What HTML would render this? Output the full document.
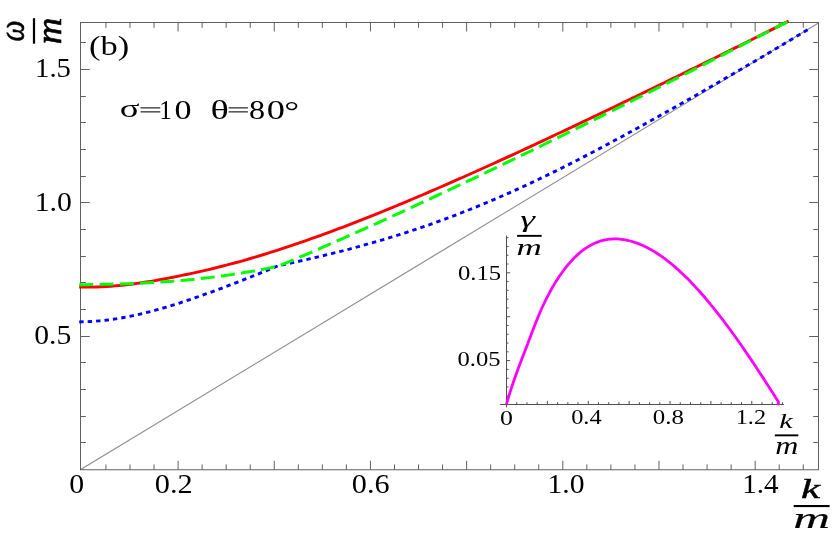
<!DOCTYPE html>
<html><head><meta charset="utf-8"><title>chart</title>
<style>html,body{margin:0;padding:0;background:#fff;font-family:"Liberation Serif",serif;overflow:hidden}</style></head>
<body>
<svg width="839" height="534" viewBox="0 0 839 534" style="display:block">
<rect x="0" y="0" width="839" height="534" fill="#ffffff"/>
<line x1="80.7" y1="469.5" x2="818.0" y2="23.2" stroke="#8e8e8e" stroke-width="1.2"/>
<rect x="80.5" y="22.5" width="738.0" height="447.25" fill="none" stroke="#606060" stroke-width="1"/>
<path d="M105.95 469.75 v-5.3 M105.95 22.5 v5.3 M129.99 469.75 v-5.3 M129.99 22.5 v5.3 M154.04 469.75 v-5.3 M154.04 22.5 v5.3 M178.08 469.75 v-9.0 M178.08 22.5 v9.0 M202.12 469.75 v-5.3 M202.12 22.5 v5.3 M226.17 469.75 v-5.3 M226.17 22.5 v5.3 M250.22 469.75 v-5.3 M250.22 22.5 v5.3 M274.26 469.75 v-9.0 M274.26 22.5 v9.0 M298.31 469.75 v-5.3 M298.31 22.5 v5.3 M322.35 469.75 v-5.3 M322.35 22.5 v5.3 M346.39 469.75 v-5.3 M346.39 22.5 v5.3 M370.44 469.75 v-9.0 M370.44 22.5 v9.0 M394.49 469.75 v-5.3 M394.49 22.5 v5.3 M418.53 469.75 v-5.3 M418.53 22.5 v5.3 M442.57 469.75 v-5.3 M442.57 22.5 v5.3 M466.62 469.75 v-9.0 M466.62 22.5 v9.0 M490.67 469.75 v-5.3 M490.67 22.5 v5.3 M514.71 469.75 v-5.3 M514.71 22.5 v5.3 M538.75 469.75 v-5.3 M538.75 22.5 v5.3 M562.80 469.75 v-9.0 M562.80 22.5 v9.0 M586.85 469.75 v-5.3 M586.85 22.5 v5.3 M610.89 469.75 v-5.3 M610.89 22.5 v5.3 M634.94 469.75 v-5.3 M634.94 22.5 v5.3 M658.98 469.75 v-9.0 M658.98 22.5 v9.0 M683.02 469.75 v-5.3 M683.02 22.5 v5.3 M707.07 469.75 v-5.3 M707.07 22.5 v5.3 M731.12 469.75 v-5.3 M731.12 22.5 v5.3 M755.16 469.75 v-9.0 M755.16 22.5 v9.0 M779.21 469.75 v-5.3 M779.21 22.5 v5.3 M803.25 469.75 v-5.3 M803.25 22.5 v5.3 M80.5 442.50 h5.3 M818.5 442.50 h-5.3 M80.5 416.50 h5.3 M818.5 416.50 h-5.3 M80.5 389.50 h5.3 M818.5 389.50 h-5.3 M80.5 362.50 h5.3 M818.5 362.50 h-5.3 M80.5 336.50 h9.3 M818.5 336.50 h-9.3 M80.5 309.50 h5.3 M818.5 309.50 h-5.3 M80.5 282.50 h5.3 M818.5 282.50 h-5.3 M80.5 256.50 h5.3 M818.5 256.50 h-5.3 M80.5 229.50 h5.3 M818.5 229.50 h-5.3 M80.5 202.50 h9.3 M818.5 202.50 h-9.3 M80.5 176.50 h5.3 M818.5 176.50 h-5.3 M80.5 149.50 h5.3 M818.5 149.50 h-5.3 M80.5 122.50 h5.3 M818.5 122.50 h-5.3 M80.5 96.50 h5.3 M818.5 96.50 h-5.3 M80.5 69.50 h9.3 M818.5 69.50 h-9.3 M80.5 42.50 h5.3 M818.5 42.50 h-5.3" stroke="#606060" stroke-width="1" fill="none"/>
<path d="M79.20 287.04 L83.66 287.13 L88.12 287.14 L92.58 287.09 L97.05 286.97 L101.51 286.79 L105.97 286.55 L110.43 286.25 L114.89 285.89 L119.35 285.48 L123.82 285.02 L128.28 284.51 L132.74 283.95 L137.20 283.35 L141.66 282.71 L146.12 282.03 L150.59 281.31 L155.05 280.56 L159.51 279.77 L163.97 278.96 L168.43 278.11 L172.89 277.24 L177.36 276.35 L181.82 275.44 L186.28 274.51 L190.74 273.56 L195.20 272.58 L199.66 271.59 L204.13 270.58 L208.59 269.54 L213.05 268.47 L217.51 267.39 L221.97 266.27 L226.43 265.13 L230.90 263.96 L235.36 262.77 L239.82 261.54 L244.28 260.29 L248.74 259.00 L253.20 257.69 L257.67 256.35 L262.13 254.99 L266.59 253.61 L271.05 252.21 L275.51 250.79 L279.97 249.35 L284.44 247.89 L288.90 246.41 L293.36 244.91 L297.82 243.39 L302.28 241.86 L306.74 240.30 L311.21 238.73 L315.67 237.15 L320.13 235.54 L324.59 233.92 L329.05 232.28 L333.51 230.63 L337.97 228.96 L342.44 227.28 L346.90 225.58 L351.36 223.87 L355.82 222.14 L360.28 220.40 L364.74 218.65 L369.21 216.88 L373.67 215.10 L378.13 213.30 L382.59 211.50 L387.05 209.68 L391.51 207.85 L395.98 206.01 L400.44 204.15 L404.90 202.29 L409.36 200.42 L413.82 198.53 L418.28 196.64 L422.75 194.74 L427.21 192.82 L431.67 190.90 L436.13 188.97 L440.59 187.03 L445.05 185.09 L449.52 183.13 L453.98 181.17 L458.44 179.20 L462.90 177.23 L467.36 175.24 L471.82 173.26 L476.29 171.26 L480.75 169.26 L485.21 167.25 L489.67 165.23 L494.13 163.21 L498.59 161.18 L503.06 159.15 L507.52 157.11 L511.98 155.06 L516.44 153.01 L520.90 150.95 L525.36 148.89 L529.83 146.82 L534.29 144.75 L538.75 142.67 L543.21 140.59 L547.67 138.50 L552.13 136.41 L556.59 134.31 L561.06 132.21 L565.52 130.11 L569.98 128.00 L574.44 125.89 L578.90 123.77 L583.36 121.65 L587.83 119.52 L592.29 117.40 L596.75 115.26 L601.21 113.13 L605.67 110.99 L610.13 108.85 L614.60 106.71 L619.06 104.56 L623.52 102.41 L627.98 100.26 L632.44 98.11 L636.90 95.95 L641.37 93.79 L645.83 91.63 L650.29 89.47 L654.75 87.31 L659.21 85.14 L663.67 82.97 L668.14 80.80 L672.60 78.62 L677.06 76.45 L681.52 74.27 L685.98 72.08 L690.44 69.90 L694.91 67.71 L699.37 65.52 L703.83 63.33 L708.29 61.13 L712.75 58.94 L717.21 56.74 L721.68 54.53 L726.14 52.33 L730.60 50.12 L735.06 47.91 L739.52 45.69 L743.98 43.47 L748.45 41.25 L752.91 39.03 L757.37 36.80 L761.83 34.57 L766.29 32.34 L770.75 30.11 L775.22 27.87 L779.68 25.62 L784.14 23.38 L788.60 21.13" stroke="#ff0000" stroke-width="2.9" fill="none"/>
<path d="M79.20 321.87 L83.26 321.81 L87.33 321.69 L91.39 321.48 L95.45 321.21 L99.51 320.87 L103.58 320.46 L107.64 319.99 L111.70 319.46 L115.77 318.86 L119.83 318.20 L123.89 317.49 L127.95 316.72 L132.02 315.90 L136.08 315.03 L140.14 314.11 L144.21 313.14 L148.27 312.12 L152.33 311.06 L156.39 309.96 L160.46 308.82 L164.52 307.65 L168.58 306.43 L172.65 305.19 L176.71 303.91 L180.77 302.60 L184.83 301.26 L188.90 299.90 L192.96 298.52 L197.02 297.11 L201.09 295.68 L205.15 294.23 L209.21 292.77 L213.27 291.29 L217.34 289.80 L221.40 288.29 L225.46 286.76 L229.53 285.23 L233.59 283.67 L237.65 282.11 L241.71 280.53 L245.78 278.93 L249.84 277.33 L253.90 275.71 L257.97 274.08 L262.03 272.44 L266.09 270.79 L270.15 269.13 L274.22 267.45 L278.28 265.77 L278.28 265.77 L282.73 264.84 L287.19 263.89 L291.64 262.92 L296.10 261.94 L300.55 260.94 L305.00 259.92 L309.46 258.90 L313.91 257.86 L318.37 256.81 L322.82 255.75 L327.27 254.67 L331.73 253.58 L336.18 252.47 L340.64 251.34 L345.09 250.20 L349.54 249.04 L354.00 247.87 L358.45 246.67 L362.91 245.45 L367.36 244.22 L371.81 242.96 L376.27 241.68 L380.72 240.38 L385.17 239.05 L389.63 237.70 L394.08 236.33 L398.54 234.94 L402.99 233.52 L407.44 232.08 L411.90 230.62 L416.35 229.13 L420.81 227.63 L425.26 226.10 L429.71 224.54 L434.17 222.96 L438.62 221.36 L443.08 219.74 L447.53 218.10 L451.98 216.43 L456.44 214.73 L460.89 213.02 L465.35 211.28 L469.80 209.52 L474.25 207.73 L478.71 205.92 L483.16 204.09 L487.62 202.23 L492.07 200.35 L496.52 198.45 L500.98 196.52 L505.43 194.57 L509.89 192.60 L514.34 190.60 L518.79 188.58 L523.25 186.54 L527.70 184.48 L532.16 182.39 L536.61 180.28 L541.06 178.16 L545.52 176.01 L549.97 173.84 L554.42 171.66 L558.88 169.45 L563.33 167.23 L567.79 164.99 L572.24 162.73 L576.69 160.46 L581.15 158.17 L585.60 155.86 L590.06 153.54 L594.51 151.21 L598.96 148.86 L603.42 146.50 L607.87 144.13 L612.33 141.74 L616.78 139.34 L621.23 136.93 L625.69 134.51 L630.14 132.08 L634.60 129.64 L639.05 127.19 L643.50 124.73 L647.96 122.27 L652.41 119.79 L656.87 117.31 L661.32 114.82 L665.77 112.33 L670.23 109.83 L674.68 107.32 L679.14 104.80 L683.59 102.28 L688.04 99.76 L692.50 97.22 L696.95 94.68 L701.41 92.14 L705.86 89.59 L710.31 87.03 L714.77 84.47 L719.22 81.90 L723.67 79.32 L728.13 76.74 L732.58 74.15 L737.04 71.56 L741.49 68.96 L745.94 66.36 L750.40 63.75 L754.85 61.13 L759.31 58.51 L763.76 55.88 L768.21 53.25 L772.67 50.61 L777.12 47.96 L781.58 45.31 L786.03 42.66 L790.48 40.00 L794.94 37.33 L799.39 34.66 L803.85 31.98 L808.30 29.30" stroke="#0000ff" stroke-width="2.9" fill="none" stroke-dasharray="4.4 4.058" stroke-dashoffset="0"/>
<path d="M79.20 284.83 L83.26 284.76 L87.33 284.69 L91.39 284.61 L95.45 284.53 L99.51 284.45 L103.58 284.35 L107.64 284.26 L111.70 284.15 L115.77 284.04 L119.83 283.92 L123.89 283.79 L127.95 283.65 L132.02 283.50 L136.08 283.33 L140.14 283.16 L144.21 282.97 L148.27 282.77 L152.33 282.55 L156.39 282.32 L160.46 282.08 L164.52 281.81 L168.58 281.53 L172.65 281.23 L176.71 280.91 L180.77 280.58 L184.83 280.22 L188.90 279.84 L192.96 279.44 L197.02 279.02 L201.09 278.58 L205.15 278.11 L209.21 277.63 L213.27 277.12 L217.34 276.59 L221.40 276.04 L225.46 275.47 L229.53 274.88 L233.59 274.27 L237.65 273.64 L241.71 272.99 L245.78 272.32 L249.84 271.62 L253.90 270.91 L257.97 270.18 L262.03 269.43 L266.09 268.65 L270.15 267.86 L274.22 267.05 L278.28 266.22 L278.28 266.22 L282.56 264.44 L286.85 262.64 L291.13 260.84 L295.42 259.02 L299.70 257.20 L303.99 255.37 L308.27 253.53 L312.55 251.68 L316.84 249.83 L321.12 247.97 L325.41 246.10 L329.69 244.23 L333.97 242.35 L338.26 240.47 L342.54 238.58 L346.83 236.68 L351.11 234.78 L355.40 232.88 L359.68 230.97 L363.96 229.05 L368.25 227.13 L372.53 225.20 L376.82 223.27 L381.10 221.34 L385.39 219.40 L389.67 217.45 L393.95 215.50 L398.24 213.54 L402.52 211.58 L406.81 209.62 L411.09 207.65 L415.37 205.67 L419.66 203.69 L423.94 201.71 L428.23 199.72 L432.51 197.73 L436.80 195.73 L441.08 193.73 L445.36 191.73 L449.65 189.72 L453.93 187.70 L458.22 185.68 L462.50 183.66 L466.78 181.63 L471.07 179.60 L475.35 177.57 L479.64 175.53 L483.92 173.49 L488.21 171.44 L492.49 169.39 L496.77 167.34 L501.06 165.28 L505.34 163.22 L509.63 161.15 L513.91 159.09 L518.20 157.01 L522.48 154.94 L526.76 152.86 L531.05 150.78 L535.33 148.69 L539.62 146.60 L543.90 144.51 L548.18 142.42 L552.47 140.32 L556.75 138.22 L561.04 136.11 L565.32 134.01 L569.61 131.90 L573.89 129.78 L578.17 127.67 L582.46 125.55 L586.74 123.43 L591.03 121.30 L595.31 119.18 L599.60 117.05 L603.88 114.91 L608.16 112.78 L612.45 110.64 L616.73 108.50 L621.02 106.36 L625.30 104.22 L629.58 102.07 L633.87 99.92 L638.15 97.77 L642.44 95.62 L646.72 93.46 L651.01 91.31 L655.29 89.15 L659.57 86.99 L663.86 84.82 L668.14 82.66 L672.43 80.49 L676.71 78.32 L680.99 76.15 L685.28 73.98 L689.56 71.81 L693.85 69.64 L698.13 67.46 L702.42 65.28 L706.70 63.10 L710.98 60.92 L715.27 58.74 L719.55 56.56 L723.84 54.37 L728.12 52.19 L732.41 50.00 L736.69 47.81 L740.97 45.62 L745.26 43.43 L749.54 41.24 L753.83 39.05 L758.11 36.86 L762.39 34.67 L766.68 32.47 L770.96 30.28 L775.25 28.08 L779.53 25.89 L783.82 23.69 L788.10 21.49" stroke="#00ff00" stroke-width="3.0" fill="none" stroke-dasharray="14 6.3" stroke-dashoffset="0"/>
<path d="M500.2 404.5 H784 M506.5 235.6 V407.3" stroke="#505050" stroke-width="1" fill="none"/>
<path d="M516.72 404.5 v-2.3 M526.94 404.5 v-2.3 M537.16 404.5 v-2.3 M547.38 404.5 v-3.6 M557.60 404.5 v-2.3 M567.82 404.5 v-2.3 M578.04 404.5 v-2.3 M588.26 404.5 v-3.6 M598.48 404.5 v-2.3 M608.70 404.5 v-2.3 M618.92 404.5 v-2.3 M629.14 404.5 v-3.6 M639.36 404.5 v-2.3 M649.58 404.5 v-2.3 M659.80 404.5 v-2.3 M670.02 404.5 v-3.6 M680.24 404.5 v-2.3 M690.46 404.5 v-2.3 M700.68 404.5 v-2.3 M710.90 404.5 v-3.6 M721.12 404.5 v-2.3 M731.34 404.5 v-2.3 M741.56 404.5 v-2.3 M751.78 404.5 v-3.6 M762.00 404.5 v-2.3 M772.22 404.5 v-2.3 M782.44 404.5 v-2.3 M506.5 395.72 h2.0 M506.5 386.94 h2.0 M506.5 378.16 h2.0 M506.5 369.38 h2.0 M506.5 360.60 h3.6 M506.5 351.82 h2.0 M506.5 343.04 h2.0 M506.5 334.26 h2.0 M506.5 325.48 h2.0 M506.5 316.70 h3.6 M506.5 307.92 h2.0 M506.5 299.14 h2.0 M506.5 290.36 h2.0 M506.5 281.58 h2.0 M506.5 272.80 h3.6 M506.5 264.02 h2.0 M506.5 255.24 h2.0 M506.5 246.46 h2.0 M506.5 237.68 h2.0" stroke="#505050" stroke-width="1" fill="none"/>
<path d="M506.40 404.43 L508.35 397.75 L510.30 391.43 L512.25 385.42 L514.20 379.69 L516.15 374.18 L518.10 368.85 L520.05 363.67 L522.00 358.57 L523.95 353.52 L525.90 348.48 L527.85 343.40 L529.80 338.26 L531.75 333.11 L533.69 328.00 L535.64 322.99 L537.59 318.14 L539.54 313.48 L541.49 309.03 L543.44 304.76 L545.39 300.68 L547.34 296.78 L549.29 293.06 L551.24 289.50 L553.19 286.09 L555.14 282.84 L557.09 279.73 L559.04 276.77 L560.99 273.93 L562.94 271.22 L564.89 268.63 L566.84 266.17 L568.79 263.83 L570.74 261.60 L572.69 259.50 L574.64 257.51 L576.59 255.63 L578.54 253.87 L580.49 252.21 L582.44 250.66 L584.39 249.22 L586.34 247.88 L588.28 246.64 L590.23 245.50 L592.18 244.46 L594.13 243.52 L596.08 242.67 L598.03 241.91 L599.98 241.24 L601.93 240.66 L603.88 240.17 L605.83 239.76 L607.78 239.43 L609.73 239.19 L611.68 239.02 L613.63 238.93 L615.58 238.92 L617.53 238.97 L619.48 239.10 L621.43 239.30 L623.38 239.56 L625.33 239.89 L627.28 240.29 L629.23 240.74 L631.18 241.26 L633.13 241.83 L635.08 242.46 L637.03 243.15 L638.98 243.89 L640.93 244.69 L642.87 245.54 L644.82 246.45 L646.77 247.41 L648.72 248.43 L650.67 249.49 L652.62 250.61 L654.57 251.78 L656.52 253.00 L658.47 254.27 L660.42 255.59 L662.37 256.96 L664.32 258.38 L666.27 259.84 L668.22 261.35 L670.17 262.90 L672.12 264.50 L674.07 266.15 L676.02 267.84 L677.97 269.57 L679.92 271.35 L681.87 273.16 L683.82 275.02 L685.77 276.92 L687.72 278.86 L689.67 280.84 L691.62 282.86 L693.57 284.92 L695.52 287.01 L697.46 289.14 L699.41 291.31 L701.36 293.51 L703.31 295.74 L705.26 298.02 L707.21 300.32 L709.16 302.66 L711.11 305.03 L713.06 307.43 L715.01 309.86 L716.96 312.33 L718.91 314.82 L720.86 317.34 L722.81 319.89 L724.76 322.47 L726.71 325.08 L728.66 327.71 L730.61 330.37 L732.56 333.05 L734.51 335.76 L736.46 338.49 L738.41 341.24 L740.36 344.02 L742.31 346.82 L744.26 349.64 L746.21 352.48 L748.16 355.34 L750.11 358.22 L752.05 361.12 L754.00 364.04 L755.95 366.98 L757.90 369.93 L759.85 372.90 L761.80 375.88 L763.75 378.88 L765.70 381.89 L767.65 384.92 L769.60 387.95 L771.55 391.01 L773.50 394.07 L775.45 397.14 L777.40 400.23 L778.3 401.5 L778.4 405.2" stroke="#ff00ff" stroke-width="2.8" fill="none" stroke-linejoin="round"/>
<rect x="793.7" y="505.0" width="35.9" height="2.1" fill="#000"/>
<rect x="517.1" y="234.9" width="24.6" height="1.9" fill="#000"/>
<rect x="774.8" y="434.4" width="23.5" height="1.9" fill="#000"/>
<rect x="32.9" y="18.2" width="2.2" height="25.5" fill="#000"/>
<rect x="140.6" y="107.2" width="19.7" height="1.3" fill="#333"/><rect x="140.6" y="111.2" width="19.7" height="1.3" fill="#333"/>
<rect x="228.6" y="107.2" width="19.3" height="1.3" fill="#333"/><rect x="228.6" y="111.2" width="19.3" height="1.3" fill="#333"/>
<g fill="#000" opacity="0.999"><text transform="matrix(1.2773 0 0 0.9878 89.063 54.520)" style="font-family:'Liberation Serif',serif;font-size:27px">(b)</text>
<text transform="matrix(1.0634 0 0 1.0082 35.074 76.522)" style="font-family:'Liberation Serif',serif;font-size:27px">1.5</text>
<text transform="matrix(1.1029 0 0 1.0122 34.681 211.020)" style="font-family:'Liberation Serif',serif;font-size:27px">1.0</text>
<text transform="matrix(1.0992 0 0 1.0122 34.201 343.520)" style="font-family:'Liberation Serif',serif;font-size:27px">0.5</text>
<text transform="matrix(1.3562 0 0 0.9416 119.644 117.165)" style="font-family:'Liberation Serif',serif;font-size:27px">σ</text>
<text transform="matrix(0.9368 0 0 1.0462 159.275 119.300)" style="font-family:'Liberation Serif',serif;font-size:27px">1</text>
<text transform="matrix(1.2609 0 0 1.0411 174.539 119.240)" style="font-family:'Liberation Serif',serif;font-size:27px">0</text>
<text transform="matrix(1.4190 0 0 1.0092 210.426 119.248)" style="font-family:'Liberation Serif',serif;font-size:27px">θ</text>
<text transform="matrix(1.1913 0 0 1.0411 249.109 119.240)" style="font-family:'Liberation Serif',serif;font-size:27px">8</text>
<text transform="matrix(1.3478 0 0 1.0411 266.852 119.240)" style="font-family:'Liberation Serif',serif;font-size:27px">0</text>
<text transform="matrix(1.3818 0 0 1.0182 284.273 119.627)" style="font-family:'Liberation Serif',serif;font-size:27px">°</text>
<text transform="matrix(1.1043 0 0 1.0192 69.196 493.345)" style="font-family:'Liberation Serif',serif;font-size:27px">0</text>
<text transform="matrix(1.1232 0 0 1.0122 154.777 493.220)" style="font-family:'Liberation Serif',serif;font-size:27px">0.2</text>
<text transform="matrix(1.1188 0 0 1.0122 351.781 493.220)" style="font-family:'Liberation Serif',serif;font-size:27px">0.6</text>
<text transform="matrix(1.0996 0 0 1.0122 547.388 493.220)" style="font-family:'Liberation Serif',serif;font-size:27px">1.0</text>
<text transform="matrix(1.0806 0 0 1.0192 742.133 493.218)" style="font-family:'Liberation Serif',serif;font-size:27px">1.4</text>
<text transform="matrix(1.5287 0 0 0.9409 800.936 497.665)" style="font-family:'Liberation Serif',serif;font-style:italic;stroke:#000;stroke-width:0.45px;font-size:28px">k</text>
<text transform="matrix(1.8207 0 0 1.0467 793.279 528.269)" style="font-family:'Liberation Serif',serif;font-style:italic;stroke:#000;stroke-width:0.12px;font-size:28px">m</text>
<text transform="matrix(1.1500 0 0 0.9966 457.938 279.526)" style="font-family:'Liberation Serif',serif;font-size:21.5px">0.15</text>
<text transform="matrix(1.1472 0 0 0.9966 457.440 366.026)" style="font-family:'Liberation Serif',serif;font-size:21.5px">0.05</text>
<text transform="matrix(1.2055 0 0 0.9915 500.096 424.552)" style="font-family:'Liberation Serif',serif;font-size:21.5px">0</text>
<text transform="matrix(1.1340 0 0 0.9831 571.150 424.431)" style="font-family:'Liberation Serif',serif;font-size:21.5px">0.4</text>
<text transform="matrix(1.1564 0 0 0.9831 652.833 424.431)" style="font-family:'Liberation Serif',serif;font-size:21.5px">0.8</text>
<text transform="matrix(1.1351 0 0 0.9778 735.672 424.233)" style="font-family:'Liberation Serif',serif;font-size:21.5px">1.2</text>
<text transform="matrix(1.5579 0 0 1.0047 520.321 227.351)" style="font-family:'Liberation Serif',serif;font-style:italic;font-size:24px">γ</text>
<text transform="matrix(1.4581 0 0 0.9934 516.624 254.800)" style="font-family:'Liberation Serif',serif;font-style:italic;font-size:24px">m</text>
<text transform="matrix(1.2488 0 0 0.9143 779.163 428.000)" style="font-family:'Liberation Serif',serif;font-style:italic;font-size:24px">k</text>
<text transform="matrix(1.3355 0 0 1.0110 775.231 453.500)" style="font-family:'Liberation Serif',serif;font-style:italic;font-size:24px">m</text>
<text transform="matrix(0 -0.8727 1.0252 0 24.459 41.564)" style="font-family:'Liberation Serif',serif;font-style:italic;stroke:#000;stroke-width:0.6px;font-size:34px">ω</text>
<text transform="matrix(0 -1.0829 1.0627 0 60.701 44.248)" style="font-family:'Liberation Serif',serif;font-style:italic;stroke:#000;stroke-width:0.6px;font-size:34px">m</text></g>
</svg>
</body></html>
